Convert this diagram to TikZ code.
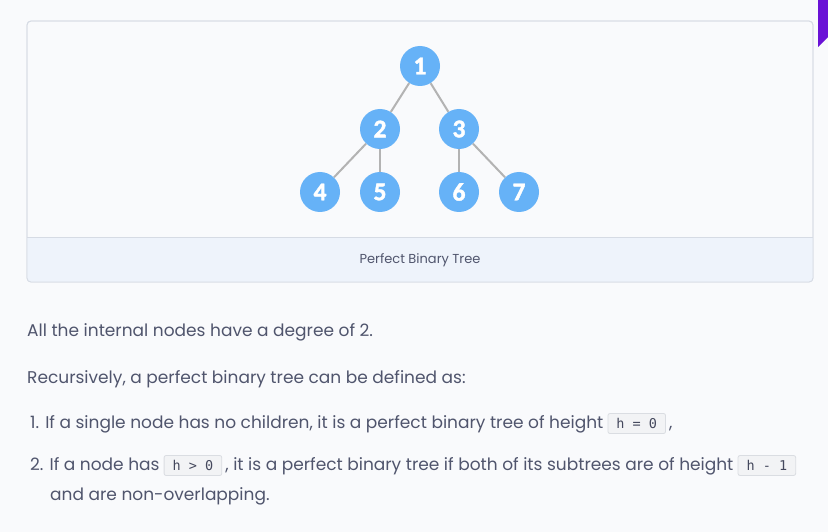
\documentclass[tikz,border=0pt]{standalone}
\usepackage{fontspec}
\setmainfont{Poppins}
\newfontfamily\treedigitfont{Carlito}[BoldFeatures={FakeBold=1.6}]
\newfontfamily\inlinecodefont{DejaVu Sans Mono}
\definecolor{bgc}{HTML}{F9FAFC}
\definecolor{cardborder}{HTML}{D6DBE4}
\definecolor{capfill}{HTML}{EEF3FB}
\definecolor{nodeblue}{HTML}{66B2F7}
\definecolor{edgegray}{HTML}{B3B3B3}
\definecolor{txtc}{HTML}{50556D}
\definecolor{codefill}{HTML}{F2F3F5}
\definecolor{codeborder}{HTML}{DADDE2}
\definecolor{purp}{HTML}{6A12D6}
\newcommand{\dg}[1]{{\treedigitfont\bfseries\fontsize{25.5}{25.5}\selectfont #1}}
\tikzset{
  tnode/.style={circle, fill=nodeblue, minimum size=40pt, inner sep=0pt, text=white},
  tedge/.style={draw=edgegray, line width=2pt},
  txt/.style={anchor=base west, inner sep=0pt, text=txtc, font=\fontsize{17}{20}\selectfont},
  codebox/.style={anchor=base west, draw=codeborder, fill=codefill, rounded corners=2pt, line width=0.8pt, inner xsep=8.5pt, inner ysep=0pt, text height=14.5pt, text depth=5.5pt, text=txtc!85!black, font=\inlinecodefont\fontsize{13.5}{14}\selectfont},
}
\begin{document}
\begin{tikzpicture}[x=1pt,y=-1pt]
\fill[bgc] (0,0) rectangle (828,532);
\useasboundingbox (0,0) rectangle (828,532);
% purple corner
\fill[purp] (818,0) -- (828,0) -- (828,37) -- (818,47) -- cycle;
% card
\draw[cardborder, fill=bgc, line width=0.8pt, rounded corners=4pt] (27,21) rectangle (813,282);
\begin{scope}
\clip[rounded corners=4pt] (27,21) rectangle (813,282);
\fill[capfill] (27,237) rectangle (813,282);
\end{scope}
\draw[cardborder, line width=0.8pt] (27,237) -- (813,237);
\draw[cardborder, line width=0.8pt, rounded corners=4pt] (27,21) rectangle (813,282);
\node[anchor=base, inner sep=0pt, text=txtc, font=\fontsize{13}{14}\selectfont] (cap) at (420,263) {Perfect Binary Tree};
% tree
\node[tnode] (n1) at (420,66) {\dg{1}};
\node[tnode] (n2) at (380,129) {\dg{2}};
\node[tnode] (n3) at (459,129) {\dg{3}};
\node[tnode] (n4) at (320,192) {\dg{4}};
\node[tnode] (n5) at (380,192) {\dg{5}};
\node[tnode] (n6) at (459,192) {\dg{6}};
\node[tnode] (n7) at (519,192) {\dg{7}};
\draw[tedge] (n1) -- (n2);
\draw[tedge] (n1) -- (n3);
\draw[tedge] (n2) -- (n4);
\draw[tedge] (n2) -- (n5);
\draw[tedge] (n3) -- (n6);
\draw[tedge] (n3) -- (n7);
% text
\node[txt] (t1) at (27,336) {All the internal nodes have a degree of 2.};
\node[txt] (t2) at (27,383) {Recursively, a perfect binary tree can be defined as:};
\node[txt] (t3) at (30,428) {1. If a single node has no children, it is a perfect binary tree of height};
\node[codebox] (c1) at ([xshift=4pt]t3.base east) {h = 0};
\node[txt] (t3b) at ([xshift=3pt]c1.base east) {,};
\node[txt] (t4) at (30,470) {2. If a node has};
\node[codebox] (c2) at ([xshift=4pt]t4.base east) {h > 0};
\node[txt] (t4b) at ([xshift=3pt]c2.base east) {, it is a perfect binary tree if both of its subtrees are of height};
\node[codebox] (c3) at ([xshift=4pt]t4b.base east) {h - 1};
\node[txt] (t5) at (50,500) {and are non-overlapping.};
\end{tikzpicture}
\end{document}
